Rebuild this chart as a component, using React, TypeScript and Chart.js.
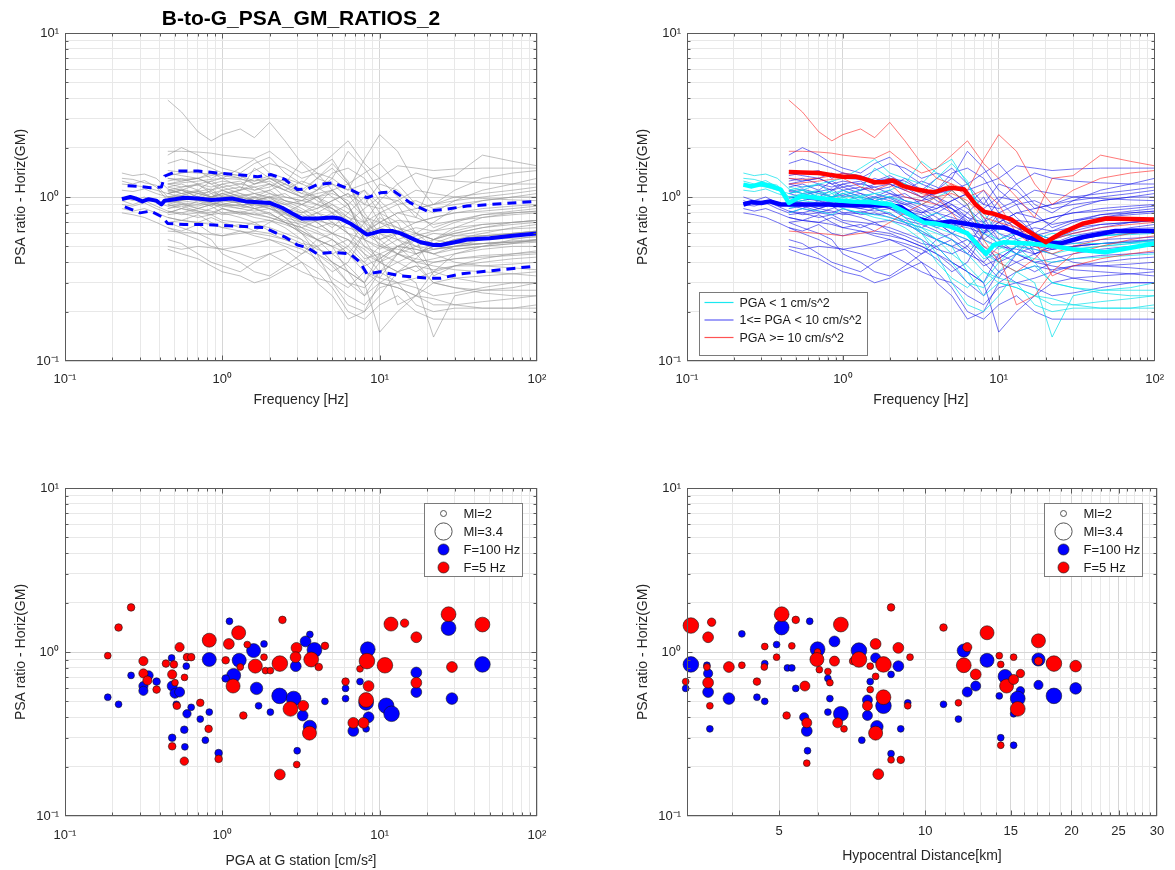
import React, { useEffect, useRef } from 'react';
import { Chart, registerables } from 'chart.js';

Chart.register(...registerables);

const FONT = '"Liberation Sans", Arial, Helvetica, sans-serif';
const INK = '#262626';
const FRAME = '#5a5a5a';
const GRID_MAJOR = '#d6d6d6';
const GRID_MINOR = '#e8e8e8';

// ---------- texts ----------
const TITLE = 'B-to-G_PSA_GM_RATIOS_2';
const Y_LABEL = 'PSA ratio - Horiz(GM)';
const X_LABEL_FREQ = 'Frequency [Hz]';
const X_LABEL_PGA = 'PGA at G station [cm/s²]';
const X_LABEL_DIST = 'Hypocentral Distance[km]';
const PGA_LEGEND = ['PGA < 1 cm/s^2', '1<= PGA < 10 cm/s^2', 'PGA >= 10 cm/s^2'];
const SCATTER_LEGEND = ['Ml=2', 'Ml=3.4', 'F=100 Hz', 'F=5 Hz'];
const LEGEND_ML = [2, 3.4];

// ---------- ticks ----------
const DECADE_VALUES = [0.1, 1, 10, 100];
const DECADE_LABELS = ['10⁻¹', '10⁰', '10¹', '10²'];
const LOG_MULTIPLIERS = [1, 2, 3, 4, 5, 6, 7, 8, 9];
const DIST_TICKS = [4, 5, 6, 7, 8, 9, 10, 11, 12, 13, 14, 15, 16, 17, 18, 19, 20, 21, 22, 23, 24, 25, 26, 27, 28, 29, 30];
const DIST_LABELED = [5, 10, 15, 20, 25, 30];

// ---------- spectral ratio curves (frequency grid) ----------
const FREQ = [0.23, 0.27, 0.32, 0.38, 0.45, 0.55, 0.7, 0.85, 1.0, 1.3, 1.6, 2.0, 2.5, 3.2, 4.0, 5.0, 6.3, 8.0, 10, 13, 17, 22, 30, 45, 70, 100];

const CYAN_CURVES = [
  [1.40, 1.35, 1.38, 1.30, 1.12, 1.05, 1.10, 1.00, 1.05, 1.10, 1.50, 1.30, 1.20, 1.05, 1.30, 1.60, 1.25, 0.70, 0.50, 0.45, 0.55, 0.50, 0.48, 0.50, 0.52, 0.55],
  [1.25, 1.20, 1.26, 1.15, 0.95, 1.00, 0.98, 1.05, 0.95, 1.00, 0.95, 1.00, 0.85, 0.75, 0.80, 0.70, 0.60, 0.45, 0.40, 0.35, 0.30, 0.14, 0.25, 0.27, 0.28, 0.30],
  [null, null, null, null, 1.05, 1.10, 1.00, 0.95, 1.00, 0.90, 0.90, 0.95, 0.80, 0.65, 0.55, 0.50, 0.35, 0.25, 0.30, 0.28, 0.25, 0.24, 0.22, 0.23, 0.24, 0.25],
  [null, null, null, null, 0.90, 0.95, 0.92, 0.88, 0.95, 1.00, 0.85, 0.80, 0.70, 0.60, 0.45, 0.30, 0.22, 0.20, 0.25, 0.35, 0.38, 0.30, 0.28, 0.27, 0.27, 0.27],
  [null, null, null, null, 1.15, 1.10, 1.20, 1.05, 1.10, 1.00, 1.05, 1.10, 1.20, 1.65, 1.40, 1.10, 0.90, 0.60, 0.55, 0.60, 0.55, 0.50, 0.55, 0.58, 0.60, 0.62],
  [null, null, null, null, 0.80, 0.85, 0.82, 0.78, 0.85, 0.80, 0.75, 0.72, 0.65, 0.55, 0.40, 0.32, 0.28, 0.35, 0.32, 0.30, 0.22, 0.20, 0.21, 0.21, 0.21, 0.22],
  [1.10, 1.08, 1.12, 1.05, 1.00, 1.05, 0.98, 0.92, 0.90, 0.95, 0.88, 0.90, 0.80, 0.70, 0.65, 0.60, 0.55, 0.42, 0.45, 0.50, 0.48, 0.45, 0.48, 0.50, 0.52, 0.53],
  [null, null, null, null, 1.00, 0.95, 1.05, 1.00, 0.95, 0.92, 1.00, 0.90, 0.75, 0.60, 0.50, 0.40, 0.30, 0.28, 0.35, 0.45, 0.42, 0.40, 0.42, 0.43, 0.44, 0.45],
  [null, null, null, null, 1.10, 1.15, 1.20, 1.25, 1.30, 1.50, 1.70, 1.40, 1.30, 1.20, 1.50, 1.70, 1.20, 0.80, 0.60, 0.50, 0.40, 0.30, 0.28, 0.26, 0.25, 0.25],
  [1.30, 1.28, 1.22, 1.18, 1.00, 1.02, 0.95, 1.00, 1.05, 0.98, 0.92, 0.88, 0.75, 0.62, 0.55, 0.45, 0.38, 0.30, 0.40, 0.50, 0.55, 0.60, 0.58, 0.58, 0.59, 0.60],
  [null, null, null, null, 0.85, 0.90, 0.88, 0.92, 0.85, 0.80, 0.78, 0.75, 0.70, 0.65, 0.60, 0.55, 0.45, 0.35, 0.30, 0.28, 0.25, 0.22, 0.22, 0.21, 0.21, 0.21],
  [1.20, 1.18, 1.15, 1.10, 1.05, 1.10, 1.05, 1.08, 1.00, 1.02, 1.05, 1.00, 0.95, 0.90, 1.00, 1.10, 0.90, 0.55, 0.48, 0.55, 0.60, 0.55, 0.52, 0.52, 0.53, 0.54],
];

const BLUE_CURVES = [
  [1.00, 0.95, 1.00, 0.92, 0.88, 0.90, 0.85, 0.90, 0.88, 0.85, 0.90, 0.85, 0.75, 0.70, 0.72, 0.68, 0.65, 0.60, 0.65, 0.60, 0.55, 0.52, 0.58, 0.62, 0.64, 0.65],
  [0.90, 0.88, 0.92, 0.85, 0.80, 0.85, 0.80, 0.78, 0.80, 0.82, 0.78, 0.80, 0.70, 0.60, 0.55, 0.50, 0.55, 0.48, 0.40, 0.45, 0.50, 0.48, 0.50, 0.52, 0.53, 0.55],
  [0.80, 0.78, 0.75, 0.70, 0.65, 0.60, 0.55, 0.50, 0.48, 0.45, 0.42, 0.45, 0.40, 0.35, 0.32, 0.30, 0.25, 0.22, 0.28, 0.30, 0.28, 0.25, 0.26, 0.28, 0.30, 0.30],
  [null, null, null, null, 1.80, 2.00, 1.80, 1.60, 1.50, 1.40, 1.60, 1.75, 1.40, 1.20, 1.10, 1.30, 1.90, 1.50, 1.10, 0.90, 0.60, 0.70, 0.85, 0.95, 1.00, 1.05],
  [null, null, null, null, 1.60, 1.70, 1.60, 1.50, 1.40, 1.30, 1.45, 1.60, 1.50, 1.30, 1.40, 1.30, 1.10, 1.20, 1.30, 1.55, 1.50, 1.45, 1.48, 1.50, 1.50, 1.50],
  [null, null, null, null, 1.30, 1.25, 1.30, 1.20, 1.25, 1.20, 1.15, 1.20, 1.10, 1.00, 1.05, 1.10, 1.20, 1.40, 1.60, 1.20, 0.90, 0.80, 0.95, 1.10, 1.20, 1.30],
  [null, null, null, null, 1.20, 1.15, 1.18, 1.10, 1.15, 1.05, 1.00, 1.10, 0.95, 0.90, 0.85, 0.95, 1.05, 0.90, 1.20, 1.10, 0.85, 0.90, 1.00, 1.05, 1.10, 1.15],
  [null, null, null, null, 1.10, 1.05, 1.08, 1.00, 1.05, 0.95, 1.00, 0.95, 0.90, 0.80, 0.90, 0.85, 0.75, 0.70, 0.80, 0.90, 0.95, 0.85, 0.90, 0.95, 1.00, 1.00],
  [null, null, null, null, 1.00, 0.98, 0.95, 0.92, 0.90, 0.88, 0.92, 0.85, 0.80, 0.72, 0.65, 0.70, 0.60, 0.55, 0.65, 0.72, 0.70, 0.75, 0.80, 0.82, 0.85, 0.88],
  [null, null, null, null, 0.95, 0.92, 0.90, 0.95, 0.88, 0.90, 0.85, 0.88, 0.82, 0.78, 0.70, 0.60, 0.50, 0.40, 0.32, 0.45, 0.60, 0.55, 0.62, 0.68, 0.70, 0.72],
  [null, null, null, null, 0.85, 0.88, 0.82, 0.80, 0.85, 0.78, 0.80, 0.75, 0.70, 0.65, 0.72, 0.80, 0.90, 1.10, 0.80, 0.55, 0.45, 0.50, 0.55, 0.58, 0.60, 0.62],
  [null, null, null, null, 0.75, 0.72, 0.78, 0.70, 0.65, 0.68, 0.62, 0.60, 0.55, 0.50, 0.45, 0.40, 0.35, 0.30, 0.15, 0.20, 0.25, 0.30, 0.32, 0.33, 0.34, 0.35],
  [null, null, null, null, 0.50, 0.48, 0.50, 0.49, 0.48, 0.50, 0.52, 0.55, 0.50, 0.45, 0.55, 0.60, 0.70, 0.85, 1.00, 0.95, 0.80, 0.65, 0.72, 0.78, 0.80, 0.82],
  [null, null, null, null, 0.55, 0.52, 0.45, 0.40, 0.38, 0.35, 0.40, 0.45, 0.48, 0.40, 0.35, 0.28, 0.20, 0.18, 0.22, 0.25, 0.20, 0.18, 0.18, 0.18, 0.18, 0.18],
  [null, null, null, null, 0.70, 0.65, 0.60, 0.55, 0.45, 0.40, 0.35, 0.33, 0.38, 0.45, 0.50, 0.40, 0.35, 0.30, 0.45, 0.40, 0.35, 0.40, 0.42, 0.44, 0.45, 0.46],
  [null, null, null, null, 0.48, 0.45, 0.42, 0.38, 0.35, 0.33, 0.30, 0.32, 0.36, 0.40, 0.30, 0.25, 0.18, 0.20, 0.30, 0.35, 0.38, 0.36, 0.38, 0.38, 0.39, 0.40],
  [null, null, null, null, 1.05, 1.10, 1.00, 1.10, 1.20, 1.10, 1.15, 1.05, 1.00, 0.95, 1.10, 1.40, 1.50, 1.30, 0.95, 0.75, 0.60, 0.55, 0.65, 0.75, 0.80, 0.82],
  [null, null, null, null, 0.90, 0.85, 0.95, 0.88, 0.80, 0.75, 0.70, 0.62, 0.58, 0.52, 0.50, 0.55, 0.45, 0.60, 0.80, 0.70, 0.45, 0.35, 0.32, 0.30, 0.30, 0.30],
  [null, null, null, null, 0.65, 0.62, 0.68, 0.60, 0.58, 0.62, 0.58, 0.55, 0.52, 0.48, 0.42, 0.35, 0.40, 0.60, 0.75, 0.65, 0.60, 0.50, 0.55, 0.60, 0.65, 0.68],
  [0.95, 0.90, 0.95, 0.88, 0.82, 0.80, 0.75, 0.78, 0.72, 0.70, 0.68, 0.65, 0.60, 0.55, 0.48, 0.45, 0.50, 0.70, 0.95, 1.20, 1.40, 1.30, 1.25, 1.22, 1.20, 1.20],
  [null, null, null, null, 1.15, 1.20, 1.10, 1.25, 1.15, 1.20, 1.30, 1.20, 1.10, 1.25, 1.15, 1.00, 0.85, 0.70, 0.60, 0.55, 0.50, 0.55, 0.60, 0.65, 0.70, 0.72],
  [null, null, null, null, 0.98, 1.02, 1.08, 1.12, 1.00, 1.05, 0.95, 1.00, 1.05, 0.90, 0.80, 0.75, 0.70, 0.55, 0.50, 0.48, 0.45, 0.50, 0.52, 0.55, 0.56, 0.57],
  [null, null, null, null, 0.88, 0.92, 0.85, 0.90, 0.95, 0.92, 0.98, 1.05, 0.95, 0.85, 0.75, 0.65, 0.80, 1.00, 0.70, 0.60, 0.55, 0.48, 0.50, 0.52, 0.54, 0.55],
  [null, null, null, null, 1.25, 1.30, 1.20, 1.15, 1.20, 1.25, 1.10, 1.15, 1.30, 1.10, 0.95, 0.85, 0.70, 0.50, 0.42, 0.50, 0.58, 0.62, 0.70, 0.78, 0.82, 0.85],
  [null, null, null, null, 0.78, 0.80, 0.85, 0.82, 0.78, 0.80, 0.85, 0.78, 0.72, 0.68, 0.62, 0.55, 0.48, 0.38, 0.42, 0.50, 0.48, 0.45, 0.40, 0.38, 0.37, 0.36],
  [null, null, null, null, 1.40, 1.35, 1.30, 1.40, 1.30, 1.28, 1.25, 1.35, 1.20, 1.10, 1.30, 1.50, 1.20, 0.90, 0.85, 0.95, 1.10, 1.05, 1.00, 0.98, 0.96, 0.95],
  [null, null, null, null, 1.05, 1.00, 0.95, 1.00, 1.10, 1.15, 1.05, 0.98, 0.90, 0.95, 1.00, 0.90, 0.80, 0.65, 0.55, 0.62, 0.70, 0.75, 0.80, 0.85, 0.88, 0.90],
  [null, null, null, null, 0.92, 0.95, 1.00, 0.98, 0.92, 0.88, 0.85, 0.90, 0.85, 0.80, 0.85, 0.95, 1.05, 0.75, 0.55, 0.45, 0.40, 0.42, 0.45, 0.48, 0.50, 0.50],
  [null, null, null, null, 1.20, 1.25, 1.30, 1.20, 1.10, 1.00, 0.95, 1.00, 0.92, 0.82, 0.70, 0.60, 0.55, 0.45, 0.35, 0.30, 0.32, 0.35, 0.38, 0.40, 0.42, 0.43],
  [null, null, null, null, 0.82, 0.78, 0.80, 0.85, 0.90, 0.85, 0.82, 0.85, 0.78, 0.72, 0.80, 0.90, 0.75, 0.62, 0.70, 0.80, 0.85, 0.90, 0.95, 1.00, 1.05, 1.10],
  [null, null, null, null, 1.35, 1.40, 1.45, 1.30, 1.40, 1.35, 1.25, 1.30, 1.15, 1.00, 0.90, 0.80, 0.70, 0.60, 0.70, 0.80, 0.75, 0.68, 0.72, 0.75, 0.78, 0.80],
  [null, null, null, null, 0.70, 0.72, 0.70, 0.75, 0.70, 0.65, 0.70, 0.72, 0.68, 0.62, 0.55, 0.50, 0.45, 0.40, 0.50, 0.60, 0.65, 0.62, 0.65, 0.68, 0.70, 0.72],
  [0.85, 0.82, 0.85, 0.80, 0.75, 0.72, 0.70, 0.68, 0.65, 0.62, 0.60, 0.58, 0.55, 0.50, 0.45, 0.38, 0.30, 0.25, 0.35, 0.40, 0.45, 0.48, 0.50, 0.52, 0.53, 0.54],
  [null, null, null, null, 1.08, 1.12, 1.05, 1.00, 1.02, 1.10, 1.20, 1.30, 1.25, 1.10, 1.00, 0.85, 0.72, 0.60, 0.52, 0.45, 0.40, 0.38, 0.36, 0.35, 0.34, 0.33],
];

const RED_CURVES = [
  [null, null, null, null, 3.90, 3.30, 2.50, 2.20, 2.40, 2.60, 2.30, 2.85, 2.20, 1.60, 1.30, 1.20, 1.00, 1.10, 0.90, 0.60, 0.50, 0.45, 0.50, 0.55, 0.60, 0.62],
  [null, null, null, null, 1.90, 1.90, 1.88, 1.85, 1.80, 1.75, 1.72, 1.90, 1.60, 1.40, 1.50, 1.80, 2.20, 1.60, 1.30, 1.00, 0.75, 1.30, 1.35, 1.80, 1.65, 1.55],
  [null, null, null, null, 1.45, 1.42, 1.40, 1.38, 1.35, 1.30, 1.20, 1.25, 1.10, 1.00, 1.10, 1.20, 1.10, 1.70, 2.40, 1.90, 1.20, 0.90, 1.10, 1.30, 1.40, 1.45],
  [null, null, null, null, 0.62, 0.61, 0.60, 0.59, 0.58, 0.60, 0.62, 0.70, 0.80, 0.90, 1.00, 0.80, 0.60, 0.50, 0.45, 0.22, 0.25, 0.35, 0.45, 0.50, 0.55, 0.58],
  [null, null, null, null, 1.30, 1.28, 1.30, 1.35, 1.40, 1.35, 1.20, 1.30, 1.15, 1.05, 1.00, 1.05, 0.95, 0.75, 0.70, 0.65, 0.55, 0.33, 0.38, 0.42, 0.45, 0.47],
  [null, null, null, null, 1.20, 1.22, 1.25, 1.28, 1.30, 1.15, 1.10, 1.20, 1.00, 0.95, 0.90, 1.10, 0.90, 0.55, 0.40, 0.35, 0.42, 0.55, 0.60, 0.65, 0.68, 0.70],
];

// ---------- overall mean and +/- sigma (top-left) ----------
const MEAN_FREQ = [0.23, 0.26, 0.28, 0.31, 0.34, 0.38, 0.41, 0.43, 0.5, 0.57, 0.7, 0.85, 1.0, 1.15, 1.4, 1.7, 2.0, 2.4, 2.8, 3.2, 4.0, 5.0, 5.6, 6.5, 7.5, 8.3, 9.0, 10.1, 12, 13.6, 16, 18.2, 22, 24.5, 30, 36, 50, 70, 100];
const MEAN_RATIO = [0.97, 1.0, 0.98, 0.94, 0.97, 0.95, 0.90, 0.95, 0.97, 0.99, 0.98, 0.96, 0.97, 0.98, 0.94, 0.93, 0.92, 0.86, 0.79, 0.74, 0.74, 0.75, 0.74, 0.69, 0.63, 0.59, 0.60, 0.62, 0.62, 0.60, 0.56, 0.53, 0.51, 0.51, 0.53, 0.55, 0.56, 0.58, 0.60];
const PLUS_FREQ = [0.25, 0.3, 0.35, 0.41, 0.43, 0.52, 0.7, 0.93, 1.25, 1.68, 2.04, 2.5, 3.0, 3.5, 4.0, 5.1, 6.5, 8.3, 10.1, 12.4, 15.7, 20, 25.7, 36, 59, 100];
const PLUS_RATIO = [1.17, 1.16, 1.14, 1.15, 1.34, 1.44, 1.44, 1.40, 1.37, 1.33, 1.37, 1.28, 1.11, 1.12, 1.19, 1.22, 1.11, 0.99, 1.06, 1.08, 0.92, 0.82, 0.84, 0.88, 0.91, 0.94];
const MINUS_FREQ = [0.24, 0.3, 0.35, 0.41, 0.45, 0.57, 0.77, 1.03, 1.38, 1.85, 2.5, 3.0, 3.5, 4.0, 5.1, 6.5, 7.5, 8.3, 10.1, 13.6, 20, 24.5, 33, 59, 100];
const MINUS_RATIO = [0.87, 0.80, 0.82, 0.76, 0.69, 0.68, 0.68, 0.67, 0.66, 0.65, 0.57, 0.51, 0.49, 0.45, 0.46, 0.45, 0.40, 0.34, 0.35, 0.33, 0.32, 0.32, 0.34, 0.36, 0.38];

// ---------- class means (top-right) ----------
const RED_MEAN_FREQ = [0.45, 0.55, 0.7, 0.85, 1.0, 1.2, 1.37, 1.6, 1.84, 2.1, 2.47, 3.0, 3.5, 3.9, 4.5, 5.0, 6.0, 7.1, 8.1, 9.3, 12, 15, 20, 25, 35, 49, 100];
const RED_MEAN_RATIO = [1.42, 1.41, 1.40, 1.36, 1.33, 1.33, 1.29, 1.23, 1.23, 1.26, 1.16, 1.11, 1.08, 1.07, 1.12, 1.14, 1.11, 0.90, 0.81, 0.79, 0.73, 0.63, 0.53, 0.60, 0.69, 0.74, 0.73];
const BLUE_MEAN_FREQ = [0.23, 0.26, 0.3, 0.34, 0.4, 0.45, 0.6, 0.8, 1.0, 1.4, 2.0, 2.35, 3.0, 3.9, 4.9, 6.0, 8.0, 10.8, 15.2, 20.3, 24.7, 35, 56, 100];
const BLUE_MEAN_RATIO = [0.90, 0.93, 0.92, 0.94, 0.90, 0.90, 0.90, 0.90, 0.89, 0.89, 0.89, 0.87, 0.74, 0.69, 0.71, 0.69, 0.66, 0.65, 0.57, 0.53, 0.52, 0.57, 0.62, 0.62];
const CYAN_MEAN_FREQ = [0.23, 0.26, 0.3, 0.35, 0.4, 0.45, 0.54, 0.69, 0.88, 1.13, 1.5, 2.03, 2.72, 3.3, 3.9, 4.9, 6.3, 7.2, 8.3, 9.3, 10.8, 15.2, 20, 30, 48, 100];
const CYAN_MEAN_RATIO = [1.19, 1.16, 1.20, 1.16, 1.11, 0.92, 1.01, 0.99, 0.96, 0.94, 0.93, 0.90, 0.78, 0.70, 0.69, 0.66, 0.60, 0.52, 0.45, 0.51, 0.53, 0.52, 0.51, 0.48, 0.46, 0.52];

// ---------- scatter vs PGA (bottom-left) ----------
const BL_BLUE_PGA = [0.187, 0.219, 0.263, 0.315, 0.315, 0.34, 0.382, 0.476, 0.59, 0.48, 0.50, 0.535, 0.51, 0.596, 0.634, 0.826, 0.724, 0.573, 0.48, 0.578, 0.78, 0.947, 0.826, 1.11, 1.28, 1.18, 1.05, 1.58, 1.65, 1.84, 1.7, 2.02, 2.31, 2.84, 2.99, 2.93, 3.6, 3.38, 3.85, 3.24, 3.6, 4.49, 6.07, 6.07, 7.5, 8.4, 8.2, 8.5, 6.8, 8.2, 11.0, 11.9, 17.1, 17.1, 27.4, 28.8, 45];
const BL_BLUE_RATIO = [0.53, 0.48, 0.72, 0.62, 0.58, 0.72, 0.66, 0.92, 0.82, 0.62, 0.56, 0.57, 0.48, 0.42, 0.46, 0.43, 0.39, 0.336, 0.30, 0.264, 0.29, 0.242, 0.90, 1.54, 0.89, 0.72, 0.69, 1.02, 0.60, 1.12, 0.47, 0.43, 0.54, 0.52, 0.25, 0.82, 1.28, 1.16, 1.03, 0.41, 0.35, 0.50, 0.60, 0.52, 0.66, 1.04, 0.49, 0.40, 0.33, 0.34, 0.47, 0.42, 0.75, 0.57, 1.40, 0.52, 0.84];
const BL_BLUE_ML = [2.1, 2.1, 2.1, 2.4, 2.4, 2.4, 2.2, 2.1, 2.1, 2.5, 2.5, 2.5, 2.1, 2.3, 2.1, 2.1, 2.1, 2.2, 2.2, 2.1, 2.1, 2.2, 3.0, 2.1, 3.0, 3.0, 2.2, 3.0, 2.8, 2.1, 2.1, 2.1, 3.2, 3.1, 2.1, 2.6, 2.1, 2.6, 3.1, 2.6, 2.9, 2.1, 2.1, 2.1, 2.1, 3.1, 3.1, 2.6, 2.6, 2.1, 3.2, 3.2, 2.6, 2.6, 3.1, 2.7, 3.2];
const BL_RED_PGA = [0.263, 0.219, 0.187, 0.315, 0.315, 0.334, 0.382, 0.438, 0.492, 0.48, 0.535, 0.596, 0.634, 0.575, 0.514, 0.50, 0.724, 0.818, 0.573, 0.48, 0.947, 0.826, 1.10, 1.27, 1.05, 1.17, 1.30, 1.44, 1.62, 1.84, 1.88, 2.02, 2.32, 2.41, 1.36, 2.71, 2.32, 2.97, 2.96, 2.92, 3.67, 3.27, 3.58, 4.49, 4.1, 6.07, 7.5, 8.3, 8.5, 8.2, 6.8, 7.9, 10.8, 11.8, 14.4, 17.1, 17.1, 27.4, 28.8, 45];
const BL_RED_RATIO = [1.87, 1.41, 0.95, 0.88, 0.74, 0.67, 0.59, 0.85, 0.84, 0.73, 1.07, 0.93, 0.93, 0.70, 0.47, 0.65, 0.49, 0.34, 0.216, 0.266, 0.223, 1.18, 1.12, 1.31, 0.89, 0.62, 0.81, 1.11, 0.82, 0.93, 0.77, 0.77, 0.85, 1.57, 0.41, 0.45, 0.179, 0.206, 1.06, 0.93, 0.90, 0.47, 0.32, 1.09, 0.81, 0.66, 0.79, 0.88, 0.62, 0.51, 0.37, 0.37, 0.83, 1.48, 1.50, 1.23, 0.65, 1.70, 0.81, 1.47];
const BL_RED_ML = [2.2, 2.2, 2.1, 2.4, 2.4, 2.4, 2.2, 2.2, 2.2, 2.4, 2.4, 2.2, 2.2, 2.1, 2.2, 2.1, 2.2, 2.2, 2.3, 2.2, 2.2, 3.0, 2.6, 3.0, 2.2, 3.0, 2.1, 2.1, 3.0, 2.1, 2.1, 2.1, 3.2, 2.2, 2.2, 3.1, 2.6, 2.1, 2.6, 2.6, 3.1, 2.6, 3.0, 2.2, 2.2, 2.2, 2.1, 3.2, 2.6, 3.1, 2.6, 2.6, 3.2, 3.0, 2.3, 2.6, 2.6, 3.1, 2.6, 3.1];

// ---------- scatter vs distance (bottom-right) ----------
const BR_BLUE_DIST = [3.29, 3.21, 3.57, 3.57, 3.55, 3.6, 3.94, 4.19, 4.5, 4.67, 4.67, 4.94, 5.06, 5.2, 5.31, 5.41, 5.78, 6.0, 5.63, 5.7, 5.72, 6.3, 6.36, 6.3, 6.5, 6.7, 7.3, 7.6, 7.6, 7.9, 7.7, 8.2, 7.95, 8.8, 8.5, 8.9, 8.5, 9.2, 7.4, 10.9, 11.7, 12.0, 12.2, 12.7, 13.4, 14.2, 14.3, 14.6, 15.2, 15.7, 15.5, 15.2, 17.1, 17.1, 18.4, 20.4];
const BR_BLUE_RATIO = [0.84, 0.60, 0.74, 0.57, 0.83, 0.34, 0.52, 1.29, 0.53, 0.50, 0.85, 1.11, 1.41, 0.80, 0.80, 0.60, 1.54, 1.04, 0.40, 0.33, 0.25, 0.69, 0.52, 0.43, 1.16, 0.42, 1.02, 0.51, 0.41, 0.92, 0.66, 0.47, 0.35, 0.82, 0.73, 0.34, 0.24, 0.49, 0.29, 0.48, 0.39, 1.02, 0.57, 0.62, 0.89, 0.54, 0.30, 0.71, 0.27, 0.58, 0.52, 0.42, 0.90, 0.63, 0.54, 0.60];
const BR_BLUE_ML = [3.2, 2.1, 2.4, 2.6, 2.1, 2.1, 2.7, 2.1, 2.1, 2.1, 2.1, 2.1, 3.1, 2.1, 2.1, 2.1, 2.1, 3.1, 2.4, 2.6, 2.1, 2.1, 2.1, 2.1, 2.6, 3.1, 3.2, 2.5, 2.5, 2.5, 2.1, 3.2, 2.8, 2.6, 2.1, 2.1, 2.1, 2.1, 2.1, 2.1, 2.1, 2.9, 2.5, 2.5, 3.0, 2.1, 2.1, 3.0, 2.1, 2.3, 3.1, 2.1, 2.9, 2.4, 3.2, 2.7];
const BR_RED_DIST = [3.29, 3.63, 3.57, 3.21, 3.55, 3.57, 3.6, 3.94, 4.19, 4.5, 4.67, 4.94, 4.66, 5.06, 5.31, 5.41, 5.18, 5.65, 6.0, 5.98, 6.05, 6.3, 6.36, 6.5, 6.7, 7.1, 7.3, 5.7, 6.6, 6.8, 7.9, 7.7, 7.9, 7.7, 7.6, 8.2, 8.2, 7.9, 8.8, 8.5, 9.3, 9.2, 8.5, 8.9, 8.0, 5.7, 10.9, 12.2, 12.0, 12.7, 11.7, 13.4, 14.2, 14.3, 15.2, 14.7, 15.2, 15.7, 15.5, 14.3, 17.1, 17.1, 18.4, 20.4];
const BR_RED_RATIO = [1.45, 1.52, 1.23, 0.66, 0.81, 0.65, 0.47, 0.81, 0.83, 0.66, 1.08, 0.93, 0.81, 1.70, 1.09, 1.57, 0.41, 0.62, 1.0, 0.90, 0.78, 0.76, 0.65, 0.88, 1.47, 0.88, 0.90, 0.37, 0.37, 0.34, 1.12, 0.82, 0.71, 0.59, 0.47, 0.84, 0.53, 0.32, 1.06, 1.87, 0.93, 0.47, 0.22, 0.22, 0.18, 0.21, 1.41, 1.07, 0.83, 0.73, 0.49, 1.31, 0.95, 0.84, 0.93, 0.62, 0.68, 0.74, 0.45, 0.27, 1.17, 0.88, 0.85, 0.82];
const BR_RED_ML = [3.2, 2.3, 2.6, 2.1, 2.1, 2.6, 2.1, 2.6, 2.1, 2.2, 2.1, 2.1, 2.1, 3.1, 2.1, 2.2, 2.2, 2.5, 2.1, 3.0, 2.1, 2.1, 2.1, 2.5, 3.1, 2.2, 3.2, 2.5, 2.5, 2.1, 2.6, 2.1, 2.1, 2.1, 2.5, 3.2, 3.1, 3.0, 2.6, 2.2, 2.1, 2.1, 2.1, 2.2, 2.6, 2.1, 2.2, 2.4, 3.1, 2.6, 2.1, 3.0, 2.1, 2.1, 2.1, 3.0, 2.5, 2.3, 3.1, 2.1, 3.0, 2.3, 3.2, 2.7];

// ---------- helpers ----------
const BLUE = '#0000ff';
const RED = '#ff0000';
const CYAN = '#00ffff';

const mlRadius = (ml: number) => 3 + (ml - 2) * 4;
const near = (a: number, b: number) => Math.abs(a - b) < 1e-9 * Math.max(1, Math.abs(b));

function decadeTicks(min: number, max: number) {
  const out: { value: number; major: boolean }[] = [];
  DECADE_VALUES.forEach((d) => {
    LOG_MULTIPLIERS.forEach((m) => {
      const v = Number((d * m).toPrecision(6));
      if (v >= min - 1e-12 && v <= max + 1e-12) out.push({ value: v, major: m === 1 });
    });
  });
  return out;
}
const decadeLabel = (v: number) => {
  const i = DECADE_VALUES.findIndex((d) => near(d, v));
  return i >= 0 ? DECADE_LABELS[i] : '';
};
const distTicks = () => DIST_TICKS.map((v) => ({ value: v, major: DIST_LABELED.includes(v) }));
const distLabel = (v: number) => (DIST_LABELED.includes(v) ? String(v) : '');

const pts = (xs: number[], ys: (number | null)[]) =>
  xs.map((x, i) => ({ x, y: ys[i] })).filter((p) => p.y !== null && p.y !== undefined);

function makeAxis(o: {
  position: 'left' | 'bottom';
  min: number;
  max: number;
  ticks: () => { value: number; major: boolean }[];
  label: (v: number) => string;
  size: number;
  tickPad: number;
  title: string;
  titlePad: any;
}) {
  return {
    type: 'logarithmic',
    position: o.position,
    min: o.min,
    max: o.max,
    afterBuildTicks: (scale: any) => {
      scale.ticks = o.ticks();
    },
    afterFit: (scale: any) => {
      if (o.position === 'left') scale.width = o.size;
      else scale.height = o.size;
    },
    grid: {
      color: (c: any) => (c.tick && c.tick.major ? GRID_MAJOR : GRID_MINOR),
      lineWidth: 1,
      drawTicks: false,
    },
    border: { display: false },
    ticks: {
      autoSkip: false,
      maxRotation: 0,
      minRotation: 0,
      padding: o.tickPad,
      color: INK,
      font: { family: FONT, size: 13 },
      callback: (value: any) => o.label(Number(value)),
    },
    title: {
      display: true,
      text: o.title,
      color: INK,
      font: { family: FONT, size: 14 },
      padding: o.titlePad,
    },
  };
}

const framePlugin = {
  id: 'matlabFrame',
  afterDraw(chart: any) {
    const { ctx, chartArea: a, scales } = chart;
    const L = Math.round(a.left) + 0.5;
    const R = Math.round(a.right) - 0.5;
    const T = Math.round(a.top) + 0.5;
    const B = Math.round(a.bottom) - 0.5;
    ctx.save();
    ctx.strokeStyle = FRAME;
    ctx.lineWidth = 1;
    ctx.beginPath();
    scales.x.ticks.forEach((t: any) => {
      const p = Math.round(scales.x.getPixelForValue(t.value)) + 0.5;
      if (p <= L + 1 || p >= R - 1) return;
      const len = t.major ? 5 : 3;
      ctx.moveTo(p, B);
      ctx.lineTo(p, B - len);
      ctx.moveTo(p, T);
      ctx.lineTo(p, T + len);
    });
    scales.y.ticks.forEach((t: any) => {
      const p = Math.round(scales.y.getPixelForValue(t.value)) + 0.5;
      if (p <= T + 1 || p >= B - 1) return;
      const len = t.major ? 5 : 3;
      ctx.moveTo(L, p);
      ctx.lineTo(L + len, p);
      ctx.moveTo(R, p);
      ctx.lineTo(R - len, p);
    });
    ctx.stroke();
    ctx.strokeRect(L, T, R - L, B - T);
    ctx.restore();
  },
};

const titlePlugin = {
  id: 'figTitle',
  afterDraw(chart: any) {
    const { ctx, chartArea: a } = chart;
    ctx.save();
    ctx.font = `bold 21px ${FONT}`;
    ctx.fillStyle = '#000';
    ctx.textAlign = 'center';
    ctx.textBaseline = 'middle';
    ctx.fillText(TITLE, (a.left + a.right) / 2, 19);
    ctx.restore();
  },
};

const lineLegendPlugin = {
  id: 'pgaLegend',
  afterDraw(chart: any) {
    const { ctx, chartArea: a } = chart;
    const w = 168;
    const h = 63;
    const x0 = Math.round(a.left + 12) + 0.5;
    const y0 = Math.round(a.bottom - 6 - h) + 0.5;
    const colors = ['rgba(0,230,240,0.9)', 'rgba(40,40,240,0.75)', 'rgba(255,40,40,0.8)'];
    ctx.save();
    ctx.fillStyle = '#fff';
    ctx.fillRect(x0, y0, w, h);
    ctx.strokeStyle = '#7a7a7a';
    ctx.lineWidth = 1;
    ctx.strokeRect(x0, y0, w, h);
    ctx.font = `12.5px ${FONT}`;
    ctx.textBaseline = 'middle';
    ctx.textAlign = 'left';
    PGA_LEGEND.forEach((txt, i) => {
      const yy = y0 + 10 + i * 17.5;
      ctx.strokeStyle = colors[i];
      ctx.lineWidth = 1.2;
      ctx.beginPath();
      ctx.moveTo(x0 + 5, yy);
      ctx.lineTo(x0 + 34, yy);
      ctx.stroke();
      ctx.fillStyle = '#1a1a1a';
      ctx.fillText(txt, x0 + 40, yy + 1);
    });
    ctx.restore();
  },
};

const markerLegendPlugin = {
  id: 'mlLegend',
  afterDraw(chart: any) {
    const { ctx, chartArea: a } = chart;
    const w = 98;
    const h = 73;
    const x0 = Math.round(a.right - 15 - w) + 0.5;
    const y0 = Math.round(a.top + 15) + 0.5;
    ctx.save();
    ctx.fillStyle = '#fff';
    ctx.fillRect(x0, y0, w, h);
    ctx.strokeStyle = '#7a7a7a';
    ctx.lineWidth = 1;
    ctx.strokeRect(x0, y0, w, h);
    ctx.font = `13px ${FONT}`;
    ctx.textBaseline = 'middle';
    ctx.textAlign = 'left';
    SCATTER_LEGEND.forEach((txt, i) => {
      const yy = y0 + 10 + i * 18;
      const mx = x0 + 19;
      ctx.beginPath();
      if (i < 2) {
        ctx.arc(mx, yy, mlRadius(LEGEND_ML[i]), 0, Math.PI * 2);
        ctx.strokeStyle = '#555';
        ctx.lineWidth = 1;
        ctx.stroke();
      } else {
        ctx.arc(mx, yy, 5.5, 0, Math.PI * 2);
        ctx.fillStyle = i === 2 ? BLUE : RED;
        ctx.fill();
        ctx.strokeStyle = '#222';
        ctx.lineWidth = 0.7;
        ctx.stroke();
      }
      ctx.fillStyle = '#1a1a1a';
      ctx.fillText(txt, x0 + 39, yy + 1);
    });
    ctx.restore();
  },
};

function lineDs(data: any[], color: string, width: number, dash: number[] = []) {
  return {
    data,
    showLine: true,
    borderColor: color,
    backgroundColor: color,
    borderWidth: width,
    borderDash: dash,
    pointRadius: 0,
    pointHoverRadius: 0,
    borderJoinStyle: 'round',
    borderCapStyle: 'butt',
    tension: 0,
  };
}

function scatterDs(xs: number[], ys: number[], mls: number[], color: string) {
  return {
    data: pts(xs, ys),
    showLine: false,
    clip: false,
    backgroundColor: color,
    borderColor: 'rgba(20,20,20,0.85)',
    borderWidth: 0.7,
    pointRadius: (c: any) => mlRadius(mls[c.dataIndex]),
    pointHoverRadius: (c: any) => mlRadius(mls[c.dataIndex]),
  };
}

const curvePts = (curve: (number | null)[]) => pts(FREQ, curve);

function baseOptions(padding: any, x: any, y: any) {
  return {
    responsive: false,
    maintainAspectRatio: false,
    animation: false,
    devicePixelRatio: 1,
    events: [],
    layout: { padding },
    plugins: { legend: { display: false }, tooltip: { enabled: false }, title: { display: false } },
    scales: { x, y },
  };
}

const yAxis = () =>
  makeAxis({
    position: 'left',
    min: 0.1,
    max: 10,
    ticks: () => decadeTicks(0.1, 10),
    label: decadeLabel,
    size: 65,
    tickPad: 6,
    title: Y_LABEL,
    titlePad: { top: 13, bottom: 0 },
  });

const freqAxis = () =>
  makeAxis({
    position: 'bottom',
    min: 0.1,
    max: 100,
    ticks: () => decadeTicks(0.1, 100),
    label: decadeLabel,
    size: 74,
    tickPad: 11,
    title: X_LABEL_FREQ,
    titlePad: { top: 0, bottom: 26 },
  });

function topLeftConfig() {
  const gray = 'rgba(150,150,150,0.6)';
  const all = [...CYAN_CURVES, ...BLUE_CURVES, ...RED_CURVES];
  const datasets: any[] = [
    lineDs(pts(MEAN_FREQ, MEAN_RATIO), BLUE, 4),
    lineDs(pts(PLUS_FREQ, PLUS_RATIO), BLUE, 3, [9, 6]),
    lineDs(pts(MINUS_FREQ, MINUS_RATIO), BLUE, 3, [9, 6]),
    ...all.map((c) => lineDs(curvePts(c), gray, 1)),
  ];
  return {
    type: 'scatter',
    data: { datasets },
    options: baseOptions({ left: 0, top: 33, right: 50, bottom: 0 }, freqAxis(), yAxis()),
    plugins: [framePlugin, titlePlugin],
  };
}

function topRightConfig() {
  const datasets: any[] = [
    lineDs(pts(RED_MEAN_FREQ, RED_MEAN_RATIO), RED, 4.5),
    lineDs(pts(CYAN_MEAN_FREQ, CYAN_MEAN_RATIO), CYAN, 4.5),
    lineDs(pts(BLUE_MEAN_FREQ, BLUE_MEAN_RATIO), BLUE, 4.5),
    ...RED_CURVES.map((c) => lineDs(curvePts(c), 'rgba(255,30,30,0.6)', 1)),
    ...CYAN_CURVES.map((c) => lineDs(curvePts(c), 'rgba(0,225,235,0.7)', 1)),
    ...BLUE_CURVES.map((c) => lineDs(curvePts(c), 'rgba(20,20,235,0.6)', 1)),
  ];
  return {
    type: 'scatter',
    data: { datasets },
    options: baseOptions({ left: 0, top: 33, right: 17, bottom: 0 }, freqAxis(), yAxis()),
    plugins: [framePlugin, lineLegendPlugin],
  };
}

function bottomLeftConfig() {
  return {
    type: 'scatter',
    data: {
      datasets: [
        scatterDs(BL_RED_PGA, BL_RED_RATIO, BL_RED_ML, RED),
        scatterDs(BL_BLUE_PGA, BL_BLUE_RATIO, BL_BLUE_ML, BLUE),
      ],
    },
    options: baseOptions(
      { left: 0, top: 53, right: 50, bottom: 0 },
      makeAxis({
        position: 'bottom',
        min: 0.1,
        max: 100,
        ticks: () => decadeTicks(0.1, 100),
        label: decadeLabel,
        size: 54,
        tickPad: 12,
        title: X_LABEL_PGA,
        titlePad: { top: 0, bottom: 0 },
      }),
      yAxis()
    ),
    plugins: [framePlugin, markerLegendPlugin],
  };
}

function bottomRightConfig() {
  return {
    type: 'scatter',
    data: {
      datasets: [
        scatterDs(BR_RED_DIST, BR_RED_RATIO, BR_RED_ML, RED),
        scatterDs(BR_BLUE_DIST, BR_BLUE_RATIO, BR_BLUE_ML, BLUE),
      ],
    },
    options: baseOptions(
      { left: 0, top: 53, right: 18, bottom: 0 },
      makeAxis({
        position: 'bottom',
        min: 3.23,
        max: 30,
        ticks: distTicks,
        label: distLabel,
        size: 54,
        tickPad: 8,
        title: X_LABEL_DIST,
        titlePad: { top: 0, bottom: 5 },
      }),
      yAxis()
    ),
    plugins: [framePlugin, markerLegendPlugin],
  };
}

function ChartCanvas(props: { left: number; top: number; width: number; height: number; build: () => any }) {
  const ref = useRef<HTMLCanvasElement | null>(null);
  useEffect(() => {
    if (!ref.current) return;
    const chart = new Chart(ref.current, props.build());
    return () => chart.destroy();
  }, []);
  return (
    <canvas
      ref={ref}
      width={props.width}
      height={props.height}
      style={{ position: 'absolute', left: props.left, top: props.top, width: props.width, height: props.height }}
    />
  );
}

export default function App() {
  return (
    <div style={{ position: 'absolute', left: 0, top: 0, width: 1175, height: 870, background: '#fff', overflow: 'hidden' }}>
      <ChartCanvas left={0} top={0} width={587} height={435} build={topLeftConfig} />
      <ChartCanvas left={622} top={0} width={553} height={435} build={topRightConfig} />
      <ChartCanvas left={0} top={435} width={587} height={435} build={bottomLeftConfig} />
      <ChartCanvas left={622} top={435} width={553} height={435} build={bottomRightConfig} />
    </div>
  );
}
